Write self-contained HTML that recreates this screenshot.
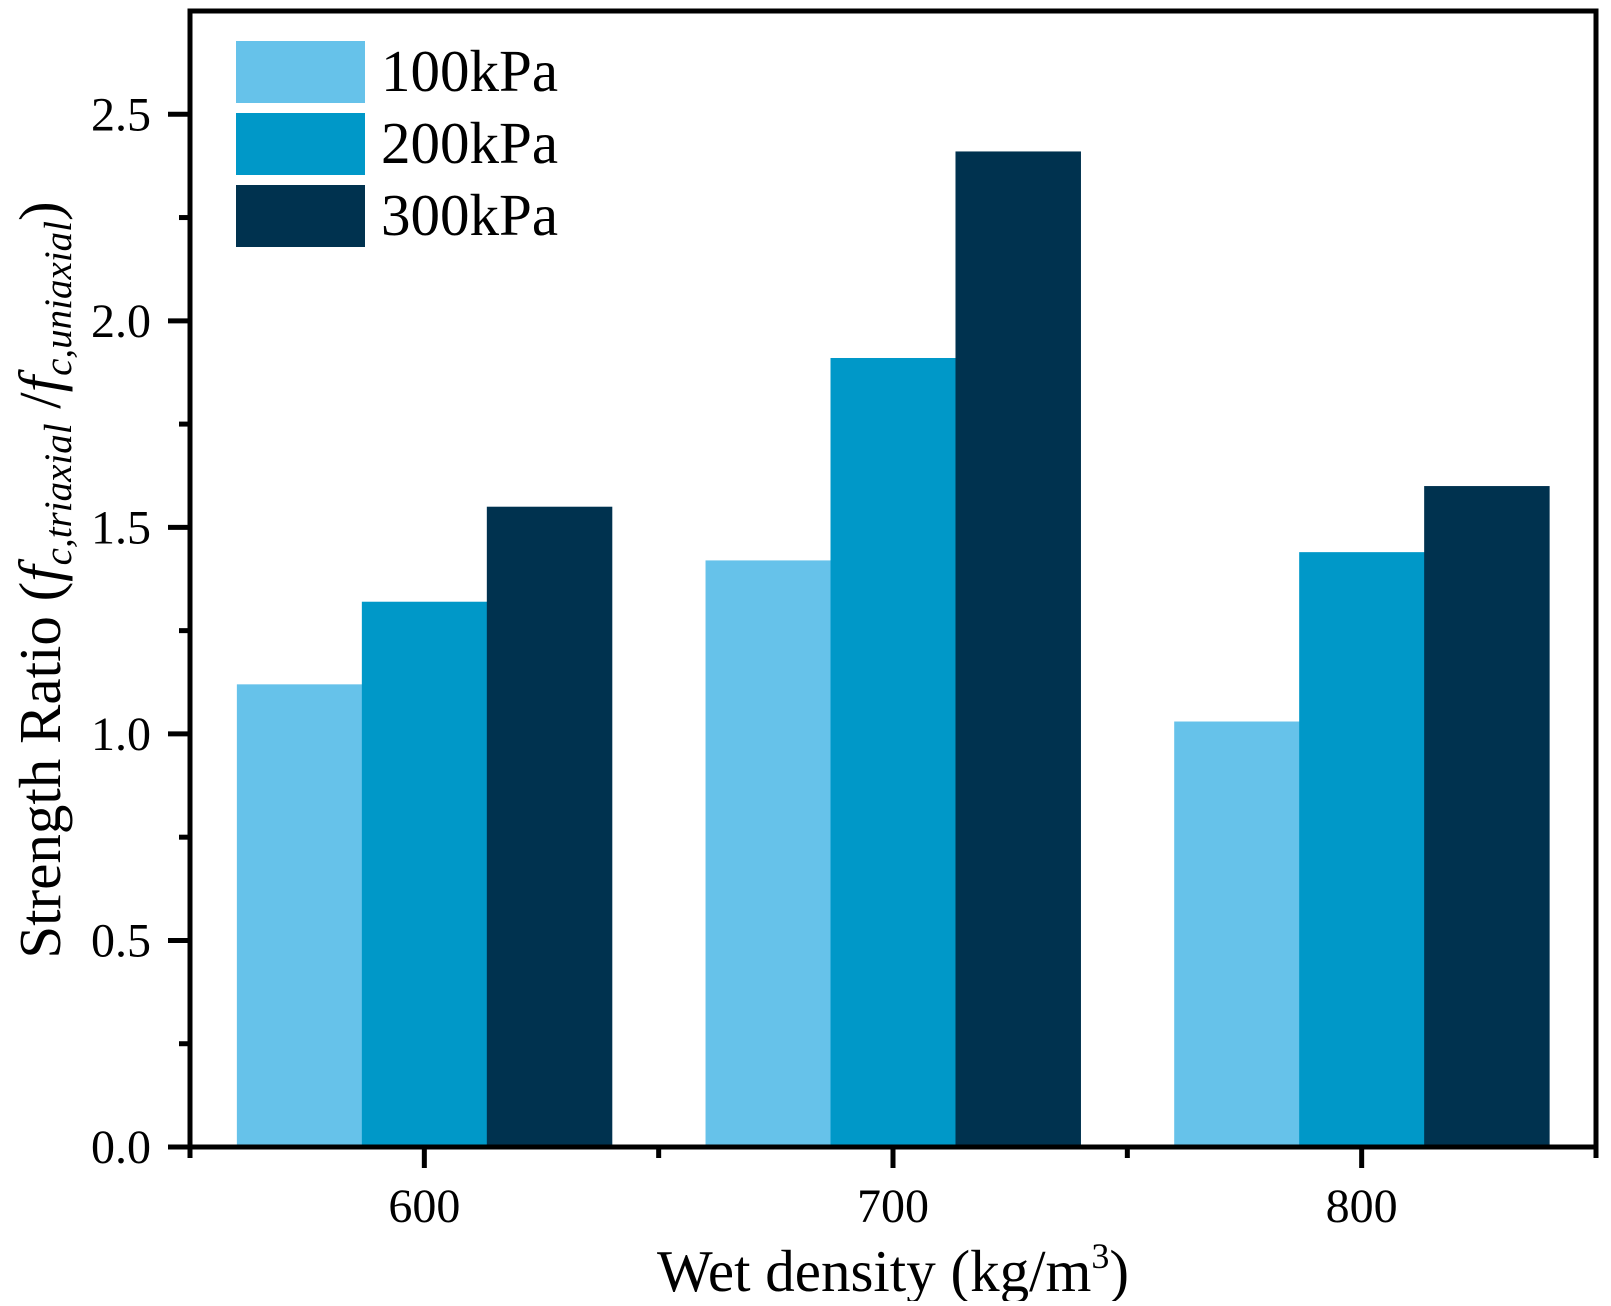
<!DOCTYPE html>
<html><head><meta charset="utf-8"><style>
html,body{margin:0;padding:0;background:#fff;}
svg text{font-family:"Liberation Serif",serif;fill:#000;}
</style></head><body>
<svg id="chart" width="1611" height="1301" viewBox="0 0 1611 1301" xmlns="http://www.w3.org/2000/svg">
<g id="bars"></g>
<g id="axes"></g>
<g id="legend"></g>
<text x="893" y="1291" font-size="59" text-anchor="middle">Wet density (kg/m<tspan dy="-23" font-size="36">3</tspan><tspan dy="23">)</tspan></text>
<text transform="translate(60,580) rotate(-90)" font-size="59" text-anchor="middle">Strength Ratio (<tspan font-style="italic">f</tspan><tspan font-style="italic" font-size="39" dy="11">c,triaxial</tspan><tspan dy="-11"> /</tspan><tspan font-style="italic">f</tspan><tspan font-style="italic" font-size="39" dy="11">c,uniaxial</tspan><tspan dy="-11">)</tspan></text>
</svg>
<script>
const categories = [600, 700, 800];
const seriesNames = ["100kPa", "200kPa", "300kPa"];
const s100 = [1.12, 1.42, 1.03];
const s200 = [1.32, 1.91, 1.44];
const s300 = [1.55, 2.41, 1.60];
const yTicks = ["0.0", "0.5", "1.0", "1.5", "2.0", "2.5"];
const colors = ["#66c2ea", "#0098c8", "#00324f"];

const NS = "http://www.w3.org/2000/svg";
const L = 190, R = 1596, T = 11, B = 1147;
const xMin = 550, xMax = 850, yMax = 2.75;
const xs = v => L + (v - xMin) / (xMax - xMin) * (R - L);
const ys = v => B - v / yMax * (B - T);
function mk(tag, attrs, parent) {
  const e = document.createElementNS(NS, tag);
  for (const k in attrs) e.setAttribute(k, attrs[k]);
  parent.appendChild(e);
  return e;
}
const bars = document.getElementById("bars");
const series = [s100, s200, s300];
const bw = 80 / 3;
series.forEach((s, si) => {
  categories.forEach((c, ci) => {
    const x0 = xs(c - 40 + si * bw), x1 = xs(c - 40 + (si + 1) * bw);
    const r = mk("rect", {x: x0, y: ys(s[ci]), width: x1 - x0 + 0.5, height: B - ys(s[ci]), fill: colors[si]}, bars);
    
    
  });
});
const ax = document.getElementById("axes");
const frame = mk("rect", {x: L, y: T, width: R - L, height: B - T, fill: "none", stroke: "#000", "stroke-width": 5}, ax);


yTicks.forEach(t => {
  const v = parseFloat(t), y = ys(v);
  mk("line", {x1: L - 22, x2: L, y1: y, y2: y, stroke: "#000", "stroke-width": 5}, ax);
  const tx = mk("text", {x: 151, y: y + 16, "font-size": 48, "text-anchor": "end"}, ax);
  tx.textContent = t;
  
  
  if (v + 0.25 < yMax) {
    const ym = ys(v + 0.25);
    mk("line", {x1: L - 11, x2: L, y1: ym, y2: ym, stroke: "#000", "stroke-width": 5}, ax);
  }
});
categories.forEach(c => {
  mk("line", {x1: xs(c), x2: xs(c), y1: B, y2: B + 21, stroke: "#000", "stroke-width": 5}, ax);
  const tx = mk("text", {x: xs(c), y: 1222, "font-size": 48, "text-anchor": "middle"}, ax);
  tx.textContent = c;
  
  
});
[550, 650, 750, 850].forEach(m => {
  mk("line", {x1: xs(m), x2: xs(m), y1: B, y2: B + 11, stroke: "#000", "stroke-width": 5}, ax);
});
const lg = document.getElementById("legend");
seriesNames.forEach((n, i) => {
  const y0 = 41 + i * 72;
  const sw = mk("rect", {x: 236, y: y0, width: 129, height: 62, fill: colors[i]}, lg);
  
  
  const tx = mk("text", {x: 381, y: y0 + 50, "font-size": 59}, lg);
  tx.textContent = n;
  
  
});
</script>
</body></html>
